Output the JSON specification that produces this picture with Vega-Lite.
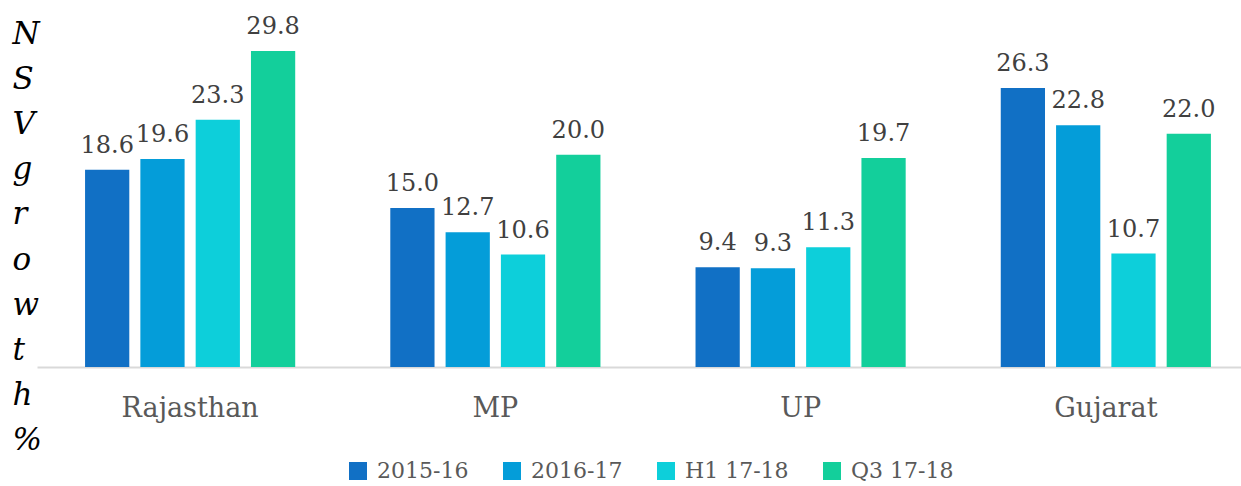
{
  "$schema": "https://vega.github.io/schema/vega-lite/v6.json",
  "autosize": "none",
  "width": 1204,
  "height": 367,
  "padding": {"left": 37, "top": 0, "right": 0, "bottom": 119},
  "background": "white",
  "data": {
    "values": [
      {"state": "Rajasthan", "period": "2015-16", "value": 18.6},
      {"state": "Rajasthan", "period": "2016-17", "value": 19.6},
      {"state": "Rajasthan", "period": "H1 17-18", "value": 23.3},
      {"state": "Rajasthan", "period": "Q3 17-18", "value": 29.8},
      {"state": "MP", "period": "2015-16", "value": 15.0},
      {"state": "MP", "period": "2016-17", "value": 12.7},
      {"state": "MP", "period": "H1 17-18", "value": 10.6},
      {"state": "MP", "period": "Q3 17-18", "value": 20.0},
      {"state": "UP", "period": "2015-16", "value": 9.4},
      {"state": "UP", "period": "2016-17", "value": 9.3},
      {"state": "UP", "period": "H1 17-18", "value": 11.3},
      {"state": "UP", "period": "Q3 17-18", "value": 19.7},
      {"state": "Gujarat", "period": "2015-16", "value": 26.3},
      {"state": "Gujarat", "period": "2016-17", "value": 22.8},
      {"state": "Gujarat", "period": "H1 17-18", "value": 10.7},
      {"state": "Gujarat", "period": "Q3 17-18", "value": 22.0}
    ]
  },
  "encoding": {
    "x": {
      "field": "state",
      "type": "nominal",
      "sort": ["Rajasthan", "MP", "UP", "Gujarat"],
      "scale": {"paddingInner": 0.3115, "paddingOuter": 0.128, "align": 0.615},
      "axis": {
        "title": null,
        "labelAngle": 0,
        "labelFont": "DejaVu Serif",
        "labelFontSize": 27,
        "labelColor": "#595959",
        "labelPadding": 28,
        "ticks": false,
        "domainColor": "#d9d9d9",
        "domainWidth": 2,
        "grid": false
      }
    },
    "xOffset": {
      "field": "period",
      "type": "nominal",
      "sort": ["2015-16", "2016-17", "H1 17-18", "Q3 17-18"],
      "scale": {"paddingInner": 0.2, "paddingOuter": 0}
    },
    "y": {
      "field": "value",
      "type": "quantitative",
      "scale": {"domain": [0, 34.6], "nice": false},
      "axis": {
        "title": ["N", "S", "V", "g", "r", "o", "w", "t", "h", "%"],
        "titleFont": "DejaVu Serif",
        "titleFontStyle": "italic",
        "titleFontWeight": "normal",
        "titleFontSize": 31,
        "titleColor": "#000000",
        "titleLineHeight": 45.2,
        "titleAngle": 0,
        "titleAlign": "left",
        "titleBaseline": "top",
        "titleX": -25,
        "titleY": 19,
        "labels": false,
        "ticks": false,
        "domain": false,
        "grid": false
      }
    }
  },
  "layer": [
    {
      "mark": {"type": "bar"},
      "encoding": {
        "color": {
          "field": "period",
          "type": "nominal",
          "sort": ["2015-16", "2016-17", "H1 17-18", "Q3 17-18"],
          "scale": {
            "domain": ["2015-16", "2016-17", "H1 17-18", "Q3 17-18"],
            "range": ["#1170C5", "#049DD9", "#0DCFDA", "#13CF9B"]
          },
          "legend": {
            "title": null,
            "orient": "none",
            "direction": "horizontal",
            "legendX": 310,
            "legendY": 460,
            "padding": 0,
            "symbolType": "square",
            "symbolSize": 324,
            "symbolStrokeWidth": 0,
            "symbolOpacity": 1,
            "labelFont": "DejaVu Serif",
            "labelFontSize": 22,
            "labelColor": "#595959",
            "labelOffset": 8,
            "columnPadding": 32,
            "labelLimit": 300
          }
        }
      }
    },
    {
      "mark": {
        "type": "text",
        "baseline": "alphabetic",
        "dy": -17,
        "font": "DejaVu Serif",
        "fontSize": 24,
        "color": "#404040"
      },
      "encoding": {
        "text": {"field": "value", "type": "quantitative", "format": ".1f"}
      }
    }
  ],
  "config": {
    "view": {"stroke": null}
  }
}
